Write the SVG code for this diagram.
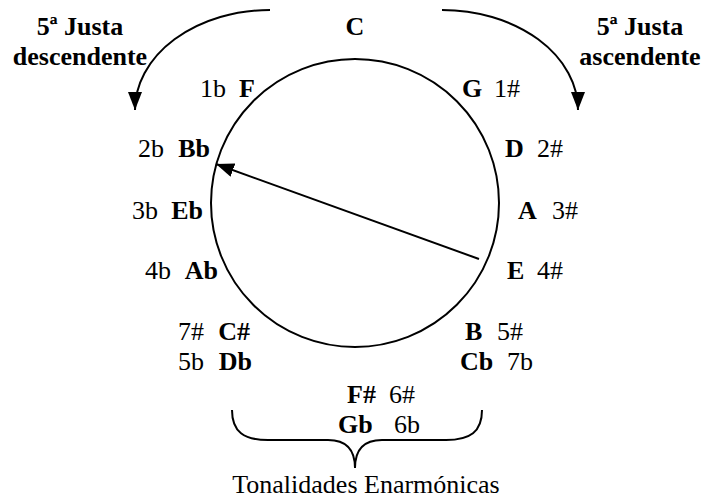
<svg xmlns="http://www.w3.org/2000/svg" width="704" height="499" viewBox="0 0 704 499">
<style>
text{font-family:'Liberation Serif','Times New Roman','DejaVu Serif',serif;font-size:26px;fill:#000}
.b{font-weight:bold}
.e{text-anchor:end}
.m{text-anchor:middle}
.ln{fill:none;stroke:#000;stroke-width:2}
</style>
<defs>
<marker id="ah" markerWidth="18" markerHeight="14" refX="18" refY="7" orient="auto" markerUnits="userSpaceOnUse">
<path d="M0,0 L18,7 L0,14 Z" fill="#000"/>
</marker>
</defs>
<rect width="704" height="499" fill="#fff"/>
<g id="circle"><circle cx="355" cy="203" r="144" class="ln"/></g>
<g id="connectors">
<path class="ln" d="M270,10 A135,100 0 0 0 135,110" marker-end="url(#ah)"/>
<path class="ln" d="M442,10 A136,100 0 0 1 578,110" marker-end="url(#ah)"/>
<line class="ln" x1="479" y1="259" x2="216" y2="164" marker-end="url(#ah)"/>
<path class="ln" d="M232,410 C232,432 244,440 268,440 L328,440 C346,440 355,450 355,468 C355,450 364,440 382,440 L446,440 C470,440 482,432 482,410"/>
</g>
<g id="title-C"><text class="b m" x="355" y="35">C</text></g>
<g id="desc"><text class="b m" x="80" y="35">5ª Justa</text><text class="b m" x="80" y="65">descendente</text></g>
<g id="asc"><text class="b m" x="640" y="35">5ª Justa</text><text class="b m" x="640" y="65">ascendente</text></g>
<g id="F"><text x="200" y="97">1b</text><text class="b e" x="255" y="97">F</text></g>
<g id="Bb"><text x="138" y="157">2b</text><text class="b e" x="210" y="157">Bb</text></g>
<g id="Eb"><text x="132" y="219">3b</text><text class="b e" x="203" y="219">Eb</text></g>
<g id="Ab"><text x="145" y="279">4b</text><text class="b e" x="218" y="279">Ab</text></g>
<g id="Csharp"><text x="178" y="340">7#</text><text class="b e" x="250" y="340">C#</text></g>
<g id="Db"><text x="178" y="370">5b</text><text class="b e" x="252" y="370">Db</text></g>
<g id="G"><text class="b" x="462" y="97">G</text><text class="e" x="520" y="97">1#</text></g>
<g id="D"><text class="b" x="505" y="157">D</text><text class="e" x="563" y="157">2#</text></g>
<g id="A"><text class="b" x="518" y="219">A</text><text class="e" x="578" y="219">3#</text></g>
<g id="E"><text class="b" x="507" y="279">E</text><text class="e" x="563" y="279">4#</text></g>
<g id="B"><text class="b" x="465" y="340">B</text><text class="e" x="523" y="340">5#</text></g>
<g id="Cb"><text class="b" x="460" y="370">Cb</text><text class="e" x="533" y="370">7b</text></g>
<g id="Fsharp"><text class="b" x="347" y="403">F#</text><text class="e" x="415" y="403">6#</text></g>
<g id="Gb"><text class="b" x="338" y="433">Gb</text><text class="e" x="420" y="433">6b</text></g>
<g id="enarm"><text class="m" x="366" y="493">Tonalidades Enarmónicas</text></g>
</svg>
